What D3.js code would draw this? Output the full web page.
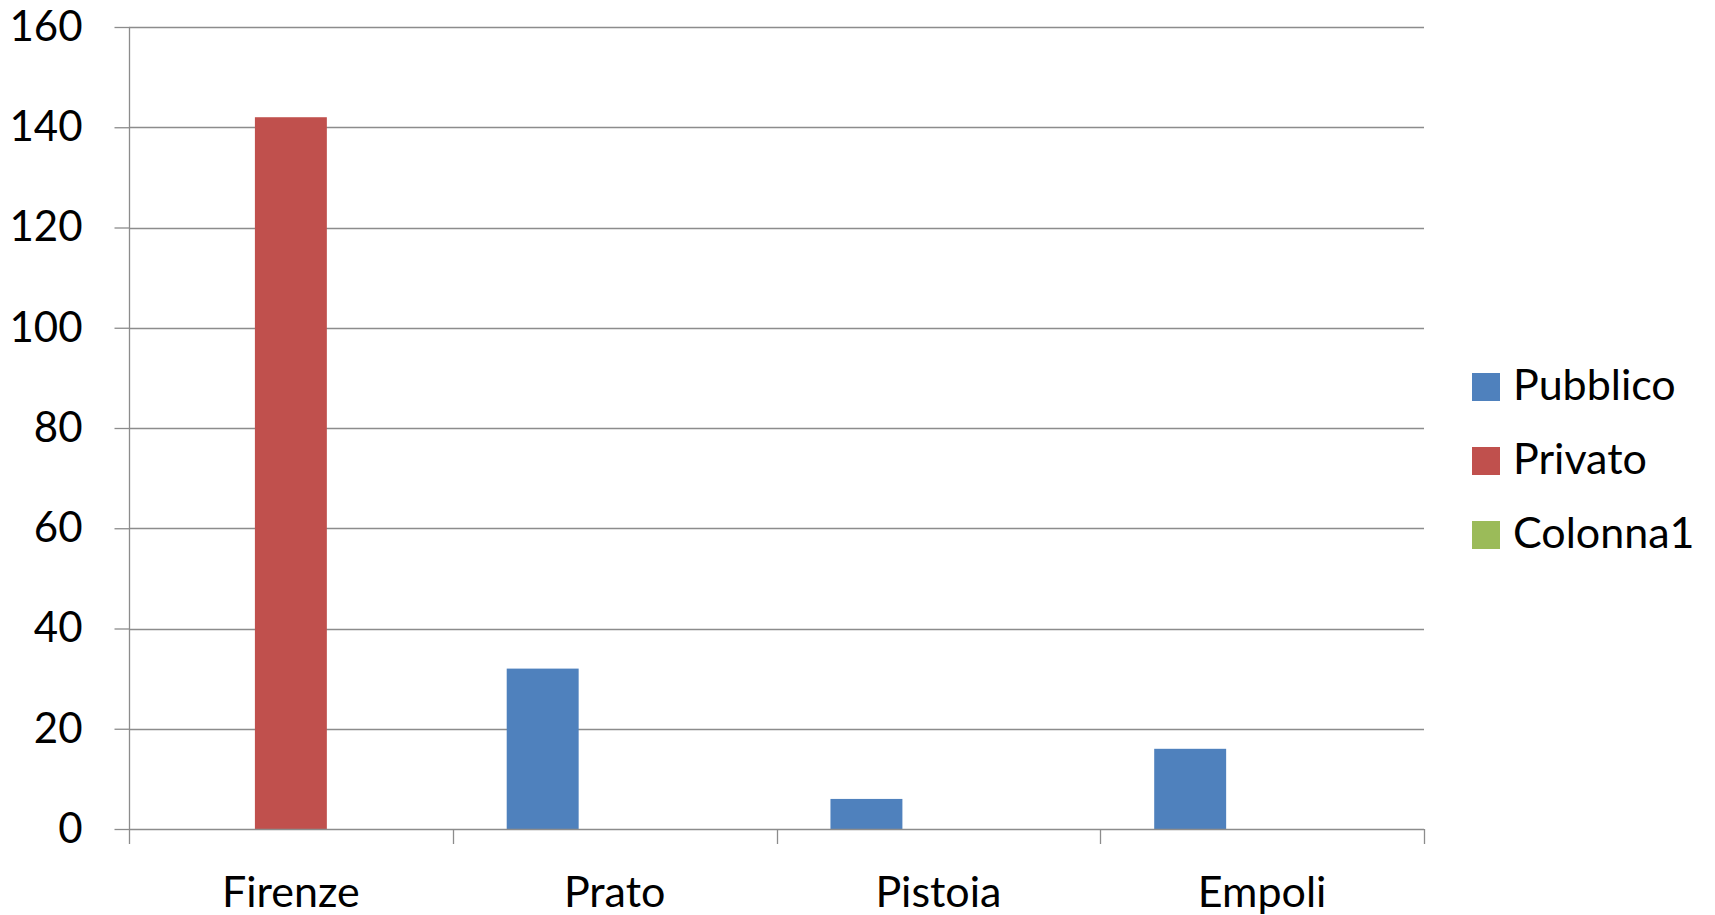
<!DOCTYPE html>
<html>
<head>
<meta charset="utf-8">
<script src="https://cdn.jsdelivr.net/npm/d3@7"></script>
<style>
  html, body { margin: 0; padding: 0; background: #fff; }
  text { font-family: Lato, "Open Sans", sans-serif; fill: #000; }
</style>
</head>
<body>
<svg id="chart" width="1715" height="915"></svg>
<script>
const categories = ["Firenze", "Prato", "Pistoia", "Empoli"];
const seriesNames = ["Pubblico", "Privato", "Colonna1"];
const pubblico = [0, 32, 6, 16];
const privato = [142, 0, 0, 0];
const colonna1 = [0, 0, 0, 0];
const seriesColors = ["#4F81BD", "#C0504D", "#9BBB59"];
const yTicks = [0, 20, 40, 60, 80, 100, 120, 140, 160];

const seriesValues = [pubblico, privato, colonna1];
const svg = d3.select("#chart");
const pLeft = 129, pRight = 1424, pTop = 27, pBottom = 829;

const x = d3.scaleBand().domain(categories).range([pLeft, pRight]).paddingInner(0).paddingOuter(0);
const xs = d3.scaleBand().domain(seriesNames).range([0, x.bandwidth()]).paddingInner(0).paddingOuter(0.75);
const y = d3.scaleLinear().domain([0, 160]).range([pBottom, pTop]);

// gridlines
svg.append("g").selectAll("line").data(yTicks.filter(d => d > 0)).join("line")
  .attr("x1", pLeft).attr("x2", pRight)
  .attr("y1", d => Math.round(y(d)) + 0.5).attr("y2", d => Math.round(y(d)) + 0.5)
  .attr("stroke", "#8c8c8c").attr("stroke-width", 1.3);

// bars
const table = [];
categories.forEach((c, i) => seriesNames.forEach((s, j) => table.push({c, s, v: seriesValues[j][i], color: seriesColors[j]})));
svg.append("g").selectAll("rect").data(table.filter(d => d.v > 0)).join("rect")
  .attr("x", d => x(d.c) + xs(d.s))
  .attr("width", xs.bandwidth())
  .attr("y", d => y(d.v))
  .attr("height", d => y(0) - y(d.v))
  .attr("fill", d => d.color);

// y axis
const yAxis = svg.append("g").attr("transform", `translate(${pLeft + 0.5},0)`)
  .call(d3.axisLeft(y).tickValues(yTicks).tickSize(15).tickPadding(32).tickFormat(d3.format("d")));
yAxis.select(".domain").attr("stroke", "#8c8c8c").attr("stroke-width", 1.3)
  .attr("d", `M0,${pTop}V${pBottom + 15}`);
yAxis.selectAll(".tick line").attr("stroke", "#8c8c8c").attr("stroke-width", 1.3);
yAxis.selectAll(".tick text").style("font-size", "42px").style("font-family", "Lato, 'Open Sans', sans-serif").attr("fill", "#000");

// x axis
const xAxis = svg.append("g").attr("transform", `translate(0,${pBottom + 0.5})`)
  .call(d3.axisBottom(x).tickSize(0).tickPadding(47));
xAxis.select(".domain").attr("stroke", "#8c8c8c").attr("stroke-width", 1.3).attr("d", `M${pLeft},0H${pRight}`);
xAxis.selectAll(".tick text").style("font-size", "43px").style("font-family", "Lato, 'Open Sans', sans-serif").attr("fill", "#000");
// category boundary ticks
svg.append("g").selectAll("line").data(categories.slice(1).concat(["__end"])).join("line")
  .attr("x1", d => Math.round(d === "__end" ? pRight : x(d)) + 0.5)
  .attr("x2", d => Math.round(d === "__end" ? pRight : x(d)) + 0.5)
  .attr("y1", pBottom).attr("y2", pBottom + 15)
  .attr("stroke", "#8c8c8c").attr("stroke-width", 1.3);

// legend
const legend = svg.append("g").attr("transform", "translate(1472,373)");
const rows = legend.selectAll("g").data(seriesNames).join("g")
  .attr("transform", (d, i) => `translate(0,${i * 74})`);
rows.append("rect").attr("width", 28).attr("height", 28).attr("fill", (d, i) => seriesColors[i]);
rows.append("text").attr("x", 41).attr("y", 27).style("font-size", "43px").text(d => d);
</script>
</body>
</html>
